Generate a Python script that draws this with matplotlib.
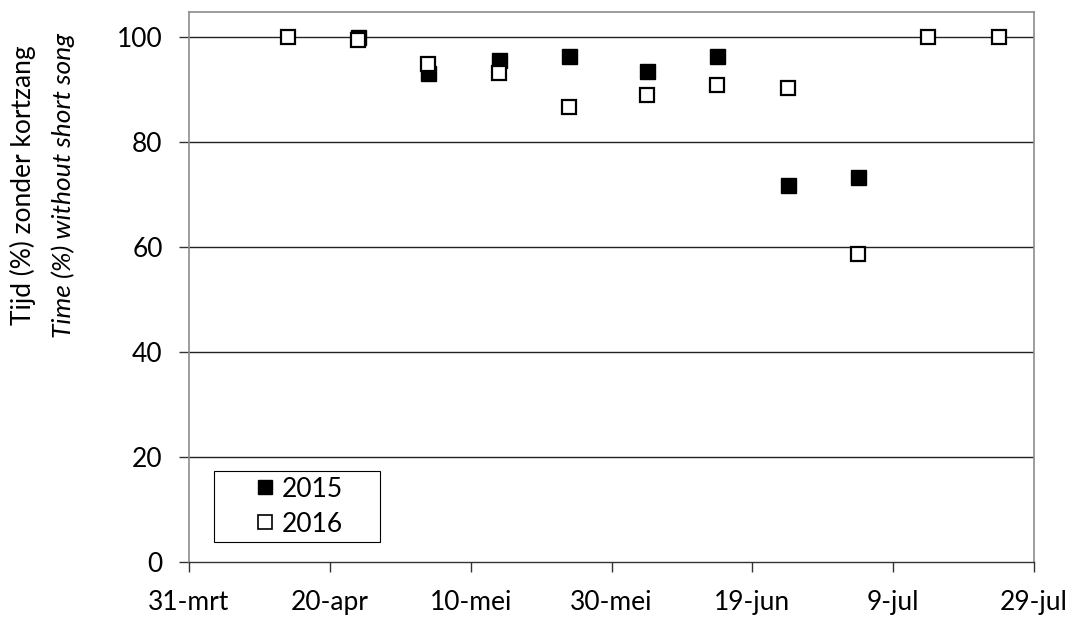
import matplotlib
matplotlib.use("Agg")
import matplotlib.pyplot as plt
from matplotlib.lines import Line2D
from matplotlib.patches import Rectangle

plt.rcParams['font.family'] = ['Lato', 'DejaVu Sans']

# days after 31 March
days_2015 = [24, 34, 44, 54, 65, 75, 85, 95]
vals_2015 = [100.0, 93.2, 95.6, 96.5, 93.6, 96.5, 71.9, 73.4]

days_2016 = [14, 24, 34, 44, 54, 65, 75, 85, 95, 105, 115]
vals_2016 = [100.0, 99.5, 94.9, 93.1, 86.8, 88.9, 90.9, 90.4, 58.7, 100.0, 100.0]

tick_days = [0, 20, 40, 60, 80, 100, 120]
tick_labels = ['31-mrt', '20-apr', '10-mei', '30-mei', '19-jun', '9-jul', '29-jul']
y_ticks = [0, 20, 40, 60, 80, 100]

fig = plt.figure(figsize=(10.76, 6.18), dpi=100)
ax = fig.add_axes([0.1757, 0.0901, 0.7853, 0.8905])

for y in y_ticks[1:]:
    ax.axhline(y, color='#222222', lw=1.0, zorder=1)

ax.plot(days_2015, vals_2015, linestyle='none', marker='s', ms=10.8,
        mfc='black', mec='black', mew=1.0, zorder=3)
ax.plot(days_2016, vals_2016, linestyle='none', marker='s', ms=10.2,
        mfc='white', mec='black', mew=1.6, zorder=4)

ax.set_xlim(0, 120)
ax.set_ylim(0, 104.8)
ax.set_xticks(tick_days)
ax.set_xticklabels(tick_labels)
ax.set_yticks(y_ticks)

for side in ['top', 'right', 'left']:
    ax.spines[side].set_color('#8c8c8c')
    ax.spines[side].set_linewidth(1.2)
ax.spines['bottom'].set_color('#333333')
ax.spines['bottom'].set_linewidth(1.0)

fs = 19
ax.tick_params(axis='x', direction='out', length=7, width=1, color='#333333',
               labelsize=fs, pad=13)
ax.tick_params(axis='y', direction='out', length=7, width=1, color='#333333',
               labelsize=fs, pad=12)

fig.text(0.021, 0.70, 'Tijd (%) zonder kortzang', rotation=90,
         ha='center', va='center', fontsize=fs)
fig.text(0.059, 0.70, 'Time (%) without short song', rotation=90,
         ha='center', va='center', fontsize=fs, style='italic')

# legend box drawn separately so it can be wider than its content
box_x, box_y, box_w, box_h = 0.0296, 0.0369, 0.1964, 0.129
ax.add_patch(Rectangle((box_x, box_y), box_w, box_h, transform=ax.transAxes,
                       facecolor='white', edgecolor='black', lw=0.8, zorder=5))

handles = [
    Line2D([], [], linestyle='none', marker='s', ms=10, mfc='black', mec='black'),
    Line2D([], [], linestyle='none', marker='s', ms=9.5, mfc='white', mec='black', mew=1.2),
]
leg = ax.legend(handles, ['2015', '2016'], loc='center',
                bbox_to_anchor=(box_x + box_w / 2 + 0.002, box_y + box_h / 2),
                fontsize=fs, frameon=False, handlelength=0.8, handletextpad=0.25,
                borderpad=0, labelspacing=0.38, borderaxespad=0)
leg.set_zorder(6)

fig.savefig('out.png', dpi=100)
